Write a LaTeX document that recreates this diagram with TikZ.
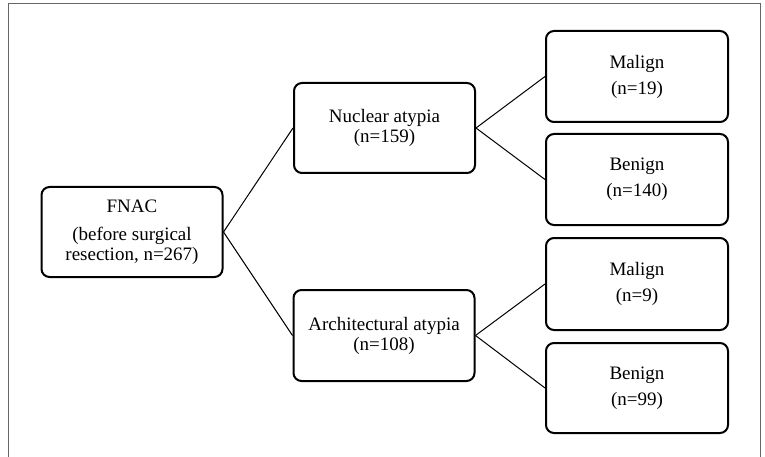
\documentclass[tikz,border=0pt]{standalone}
\usepackage{fontspec}
\setmainfont{Liberation Serif}
\begin{document}
\begin{tikzpicture}[x=1pt,y=-1pt,
  box/.style={draw=black,line width=2pt,rounded corners=8pt,minimum width=181pt,inner sep=0pt,
    align=center,font=\fontsize{19}{20}\selectfont},
  link/.style={draw=black,line width=1pt}]
\useasboundingbox (0,0) rectangle (765,457);
\draw[gray!80!black,line width=1pt] (8,457) -- (8,4) -- (760,4) -- (760,457);
\node[box,minimum height=90pt] (fnac) at (132,232) {FNAC\\[8pt](before surgical\\resection, n=267)};
\node[box,minimum height=90pt] (nuc) at (384.5,128) {Nuclear atypia\\(n=159)};
\node[box,minimum height=91pt] (arch) at (384,335.5) {Architectural atypia\\(n=108)};
\node[box,minimum height=91pt,minimum width=182pt] (m1) at (637,76.5) {Malign\\[6pt](n=19)};
\node[box,minimum height=91pt,minimum width=182pt] (b1) at (637,179.5) {Benign\\[6pt](n=140)};
\node[box,minimum height=92pt,minimum width=182pt] (m2) at (637,284) {Malign\\[6pt](n=9)};
\node[box,minimum height=90pt,minimum width=182pt] (b2) at (637,388) {Benign\\[6pt](n=99)};
\draw[link] (fnac.east) -- (nuc.west);
\draw[link] (fnac.east) -- (arch.west);
\draw[link] (nuc.east) -- (m1.west);
\draw[link] (nuc.east) -- (b1.west);
\draw[link] (arch.east) -- (m2.west);
\draw[link] (arch.east) -- (b2.west);
\end{tikzpicture}
\end{document}
